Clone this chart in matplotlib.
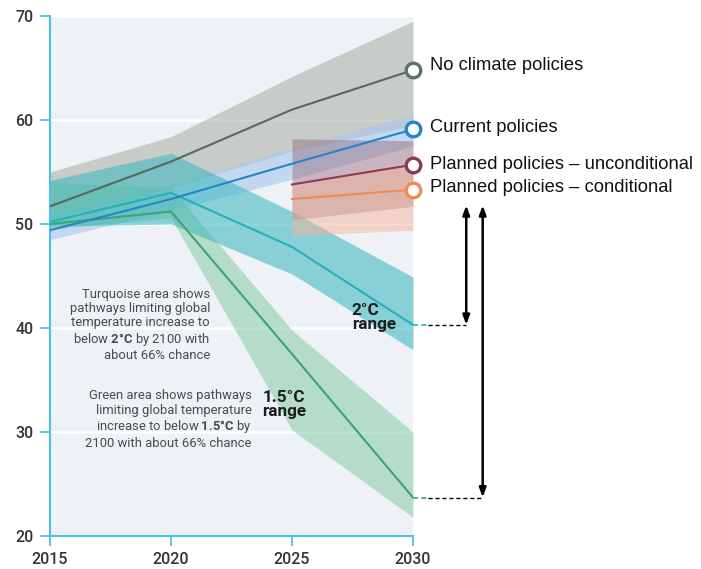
import matplotlib
matplotlib.use("Agg")
import matplotlib.pyplot as plt

plt.rcParams["mathtext.fontset"] = "custom"
plt.rcParams["mathtext.rm"] = "Roboto"
plt.rcParams["mathtext.bf"] = "Roboto:bold"

# Emissions pathways (GtCO2e) by year
years = [2015, 2020, 2025, 2030]

no_policy = [51.7, 56.0, 61.0, 64.8]
no_policy_lo = [50.5, 53.5, 57.0, 59.5]
no_policy_hi = [55.0, 58.4, 64.2, 69.5]

current = [49.4, 52.4, 55.8, 59.1]
current_lo = [48.5, 51.3, 54.3, 57.5]
current_hi = [50.6, 53.8, 57.3, 60.5]

planned_years = [2025, 2030]
uncond = [53.8, 55.7]
uncond_lo = [50.4, 51.7]
uncond_hi = [58.2, 58.0]
cond = [52.4, 53.3]
cond_lo = [48.9, 49.4]
cond_hi = [53.9, 56.1]

two_deg = [50.2, 53.0, 47.8, 40.3]
two_deg_lo = [49.8, 50.0, 45.2, 37.9]
two_deg_hi = [54.2, 56.8, 51.2, 44.9]

one_five = [50.0, 51.2, 37.5, 23.7]
one_five_lo = [49.5, 50.6, 30.2, 21.8]
one_five_hi = [54.0, 53.5, 39.8, 30.0]

x_ticks = [2015, 2020, 2025, 2030]
y_ticks = [20, 30, 40, 50, 60, 70]

series_labels = ["No climate policies", "Current policies",
                 "Planned policies – unconditional", "Planned policies – conditional"]

BG = "#eef2f7"
SPINE = "#4ec0e4"

fig = plt.figure(figsize=(7.01, 5.69), dpi=100)
ax = fig.add_axes([50 / 701, 33 / 569, 363 / 701, 520 / 569])
ax.set_facecolor(BG)

# ranges
ax.fill_between(years, no_policy_lo, no_policy_hi, color="#a6a99f", alpha=0.52, lw=0, zorder=1)
ax.fill_between(years, current_lo, current_hi, color="#a9c6ee", alpha=0.6, lw=0, zorder=1)
ax.fill_between(years, one_five_lo, one_five_hi, color="#7cc89a", alpha=0.5, lw=0, zorder=1)
ax.fill_between(years, two_deg_lo, two_deg_hi, color="#3fb8bf", alpha=0.58, lw=0, zorder=1)
ax.fill_between(planned_years, uncond_lo, uncond_hi, color="#94606f", alpha=0.42, lw=0, zorder=1)
ax.fill_between(planned_years, cond_lo, cond_hi, color="#f2b49a", alpha=0.5, lw=0, zorder=1)

# central pathways
lw = 1.5
ax.plot(years, one_five, color="#3aa37a", lw=lw, zorder=3)
ax.plot(years, two_deg, color="#22b2bb", lw=lw, zorder=3)
ax.plot(years, no_policy, color="#56685f", lw=lw, zorder=3)
ax.plot(years, current, color="#2386c8", lw=lw, zorder=3)
ax.plot(planned_years, uncond, color="#8a3b5b", lw=lw, zorder=3)
ax.plot(planned_years, cond, color="#f28a55", lw=lw, zorder=3)

# end markers and labels
ends = [(no_policy[-1], "#5f7268", 3.5),
        (current[-1], "#2386c8", 1.0),
        (uncond[-1], "#8a3b5b", 0.0),
        (cond[-1], "#f28a55", 1.5)]
for (val, col, dy), lab in zip(ends, series_labels):
    ax.plot([2030], [val], marker="o", ms=10.5, mfc="white", mec=col, mew=2.4,
            clip_on=False, zorder=5)
    ax.annotate(lab, xy=(2030, val), xytext=(12.5, dy), textcoords="offset points",
                ha="left", va="center", fontsize=13.2, family="Liberation Sans",
                color="#111111", annotation_clip=False)

ax.set_xlim(2015, 2030)
ax.set_ylim(20, 70)
ax.set_xticks(x_ticks)
ax.set_yticks(y_ticks)
ax.yaxis.grid(True, color="white", lw=1.8, zorder=0)
ax.set_axisbelow(True)

for side in ["top", "right"]:
    ax.spines[side].set_visible(False)
for side in ["left", "bottom"]:
    ax.spines[side].set_color(SPINE)
    ax.spines[side].set_linewidth(1.5)
ax.tick_params(axis="both", direction="out", length=7.5, width=1.3, color=SPINE,
               labelsize=11.5, labelcolor="#333333")
ax.tick_params(axis="y", pad=4.5)
ax.tick_params(axis="x", pad=4)
for lbl in ax.get_xticklabels() + ax.get_yticklabels():
    lbl.set_family("Roboto")
    lbl.set_fontweight("medium")

# explanatory notes
ax.text(0.4408, 0.4058,
        "Turquoise area shows\npathways limiting global\ntemperature increase to\n"
        r"below $\mathbf{2°C}$ by 2100 with" "\nabout 66% chance",
        transform=ax.transAxes, ha="right", va="center", fontsize=9.4,
        family="Roboto", color="#4a4a4a", linespacing=1.13, zorder=6)
ax.text(0.5556, 0.224,
        "Green area shows pathways\nlimiting global temperature\n"
        r"increase to below $\mathbf{1.5°C}$ by" "\n2100 with about 66% chance",
        transform=ax.transAxes, ha="right", va="center", fontsize=9.4,
        family="Roboto", color="#4a4a4a", linespacing=1.13, zorder=6)
ax.text(0.8311, 0.4205, "2°C\nrange", transform=ax.transAxes, ha="left", va="center",
        fontsize=12.3, fontweight="bold", family="Roboto", color="#1e1e1e",
        linespacing=0.95, zorder=6)
ax.text(0.585, 0.2533, "1.5°C\nrange", transform=ax.transAxes, ha="left", va="center",
        fontsize=12.3, fontweight="bold", family="Roboto", color="#1e1e1e",
        linespacing=0.95, zorder=6)

# emissions gap arrows
gap_top = 51.8
x_arrow1 = 2032.2
x_arrow2 = 2032.88
for x_arr, target, col in [(x_arrow1, two_deg[-1], "#22b2bb"),
                           (x_arrow2, one_five[-1], "#3aa37a")]:
    ax.plot([2030, 2030.6], [target, target], color=col, lw=1.2, ls=(0, (3, 2)),
            clip_on=False, zorder=4)
    ax.plot([2030.6, x_arr], [target, target], color="black", lw=1.0, ls=(0, (3, 2)),
            clip_on=False, zorder=4)
    ax.annotate("", xy=(x_arr, target), xytext=(x_arr, gap_top),
                arrowprops=dict(arrowstyle="<|-|>,head_length=0.55,head_width=0.2",
                                color="black", lw=1.8, shrinkA=0, shrinkB=0),
                annotation_clip=False)

fig.savefig("out.png", dpi=100, facecolor="white")
